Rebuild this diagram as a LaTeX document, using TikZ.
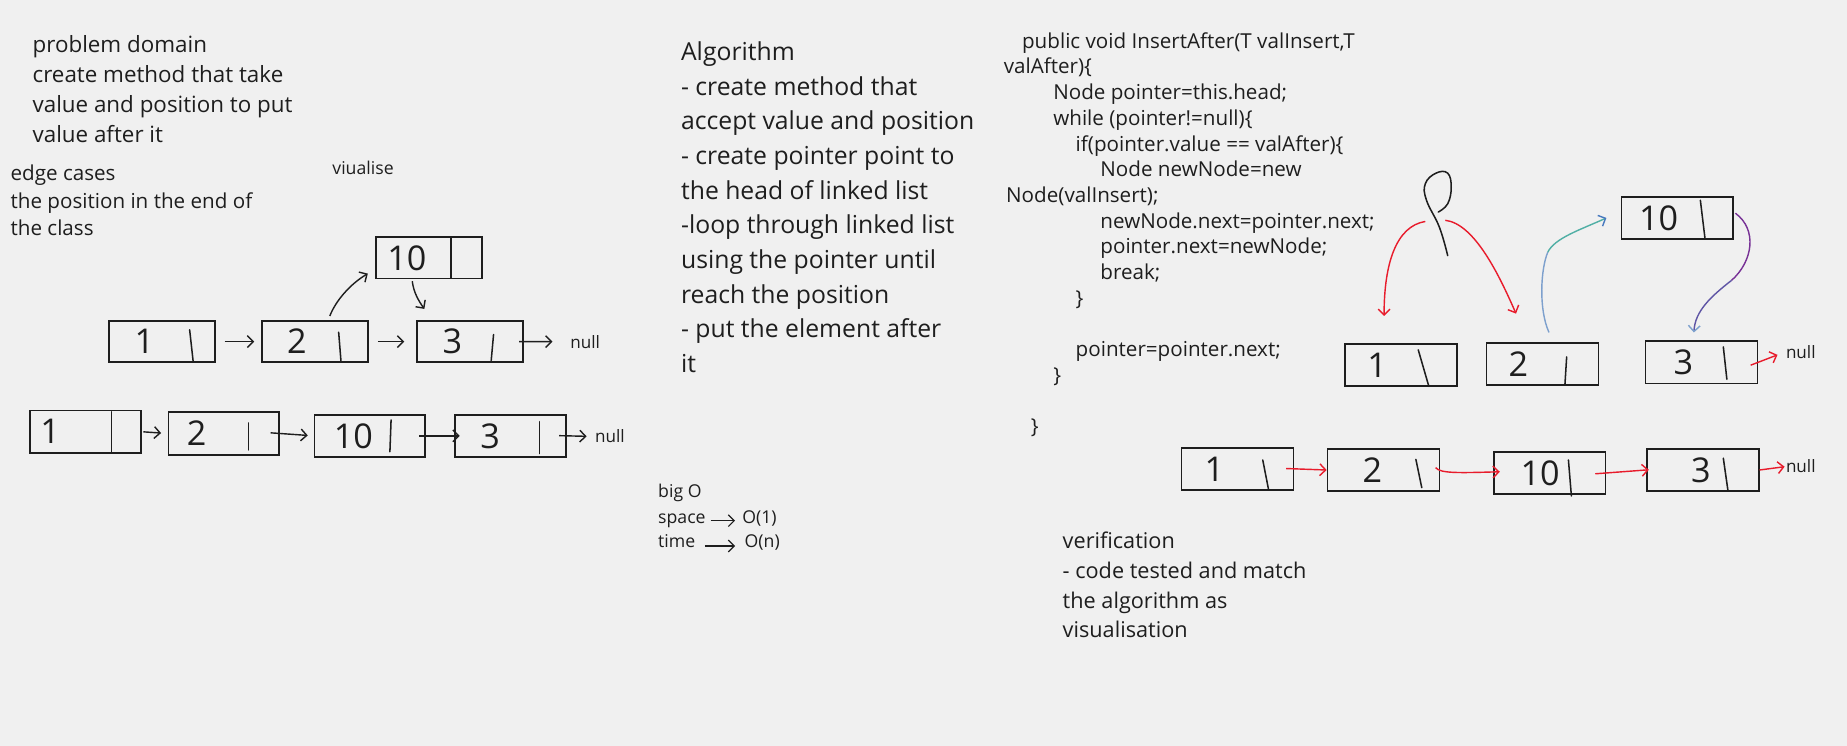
\documentclass[tikz,border=0pt]{standalone}
\usepackage{fontspec}
\setmainfont{Open Sans}
\usetikzlibrary{arrows.meta,calc}
\definecolor{paper}{RGB}{240,240,240}
\definecolor{ink}{RGB}{30,30,30}
\definecolor{hred}{RGB}{232,28,44}
\definecolor{cblue}{RGB}{70,120,190}
\definecolor{cpale}{RGB}{125,160,205}
\definecolor{cteal}{RGB}{80,175,165}
\definecolor{cpurp}{RGB}{120,50,150}
\definecolor{cviol}{RGB}{95,85,165}

\begin{document}
\begin{tikzpicture}[x=1pt,y=-1pt,
  cell/.style={draw=ink,line width=1.5pt,minimum width=90pt,minimum height=35pt,inner sep=0pt},
  num/.style={font=\fontsize{29}{29}\selectfont,text=ink,inner sep=0pt},
  bar/.style={ink,line width=1.3pt,line cap=round},
  txt/.style={text=ink,inner sep=0pt,anchor=base west},
  prob/.style={txt,font=\fontsize{19}{23}\selectfont},
  algo/.style={txt,font=\fontsize{21}{25}\selectfont},
  edgetxt/.style={txt,font=\fontsize{17.5}{21}\selectfont},
  code/.style={txt,font=\fontsize{17.5}{21}\selectfont},
  tiny/.style={txt,font=\fontsize{15}{18}\selectfont},
  nul/.style={txt,font=\fontsize{14.5}{17}\selectfont},
  link/.style={ink,line width=1.2pt,-{Straight Barb[length=5pt,width=10pt]}},
  rlink/.style={link,hred}]
  \fill[paper] (0,0) rectangle (1568,633);
  \useasboundingbox (0,0) rectangle (1568,633);

  % notes on the left
  \foreach \t [count=\i] in {problem domain,create method that take,value and position to put,value after it}
    \node[prob] (prob\i) at (27.5,{44.7+25.5*(\i-1)}) {\t};
  \foreach \t [count=\i] in {edge cases,the position in the end of,the class}
    \node[edgetxt] (edge\i) at (8.8,{153+23.6*(\i-1)}) {\t};
  \node[tiny] (vis) at (282,148) {viualise};

  % algorithm
  \foreach \t [count=\i] in {Algorithm,- create method that,accept value and position,- create pointer point to,the head of linked list,-loop through linked list,using the pointer until,reach the position,- put the element after,it}
    \node[algo] (alg\i) at (578,{51.5+29.4*(\i-1)}) {\t};

  % big O
  \node[tiny] (bigo) at (558.6,422) {big O};
  \node[tiny] (space) at (558.6,444) {space};
  \node[tiny] (o1) at (630,444) {O(1)};
  \node[tiny] (time) at (558.6,464.5) {time};
  \node[tiny] (on) at (632,464.5) {O(n)};
  \draw[link,line width=1pt,shorten <=4pt,shorten >=6pt] ([yshift=2pt]space.base east) -- ([yshift=2pt]o1.base west);
  \draw[link,line width=1pt,shorten <=8pt,shorten >=8pt] ([yshift=1pt]time.base east) -- ([yshift=1pt]on.base west);

  % code
  \foreach \x/\k/\t in {867.5/0/{public void InsertAfter(T valInsert,T},852/1/{valAfter)\{},
      894/2/{Node pointer=this.head;},894/3/{while (pointer!=null)\{},913/4/{if(pointer.value == valAfter)\{},
      934/5/{Node newNode=new},854/6/{Node(valInsert);},934/7/{newNode.next=pointer.next;},
      934/8/{pointer.next=newNode;},934/9/{break;},913/10/{\}},913/12/{pointer=pointer.next;},
      894/13/{\}},875/15/{\}}}
    \node[code] (code\k) at (\x,{41+21.8*\k}) {\t};

  % verification
  \foreach \t [count=\i] in {verification,- code tested and match,the algorithm as,visualisation}
    \node[prob,font=\fontsize{18.4}{22}\selectfont] (ver\i) at (902,{466+25.2*(\i-1)}) {\t};

  % list before and after, left
  \foreach \n/\x/\y/\v/\d/\ax/\ay/\bx/\by in {T1/137.5/290/1/-15/23.5/-10/26.5/17,
      T2/267.5/290/2/-15.5/20/-8/22/17,T3/399/290/3/-15/20/-6/18/16,T10/364.5/219/10/-19/18.5/-17/18.5/17}{
    \node[cell] (\n) at (\x,\y) {};
    \node[num] (d\n) at ($(\n)+(\d,0)$) {\v};
    \draw[bar] ($(\n)+(\ax,\ay)$) -- ($(\n)+(\bx,\by)$);
  }
  \begin{scope}[cell/.append style={minimum width=94pt,minimum height=36pt}]
    \foreach \n/\x/\y/\v/\d/\ax/\ay/\bx/\by in {B1/72.5/366.5/1/-30/22/-17/22/18,
        B2/190/368/2/-23/21/-9/21/14,B10/314/370/10/-14/18/-13.5/17/13.5,B3/433.5/370/3/-17.5/24.5/-12/24.5/15}{
      \node[cell] (\n) at (\x,\y) {};
      \node[num] (d\n) at ($(\n)+(\d,0)$) {\v};
      \draw[bar] ($(\n)+(\ax,\ay)$) -- ($(\n)+(\bx,\by)$);
    }
  \end{scope}
  \node[nul] (nullT) at (484,295.5) {null};
  \node[nul] (nullB) at (505,376) {null};
  \draw[link,shorten <=7.5pt,shorten >=6pt] (T1.east) -- (T2.west);
  \draw[link,shorten <=7.5pt,shorten >=10pt] (T2.east) -- (T3.west);
  \draw[link,shorten <=-4pt,shorten >=15pt] (T3.east) -- (nullT.west);
  \draw[link] ($(T2.north)+(12.5,-3.5)$) .. controls +(5,-13) and +(-15,9) .. ($(T10.south west)+(-6.5,-5)$);
  \draw[link] ($(T10.south)+(-14.5,1.5)$) .. controls +(1,9) and +(-5,-7) .. ($(T3.north west)+(7,-9.5)$);
  \draw[link,shorten <=1.5pt,shorten >=5.5pt] (B1.east) -- (B2.west);
  \draw[link,shorten <=-8pt,shorten >=5pt] (B2.east) -- (B10.west);
  \draw[link,shorten <=-6pt,shorten >=-4.5pt] (B10.east) -- (B3.west);
  \draw[link,shorten <=-6.5pt,shorten >=7pt] (B3.east) -- (nullB.west);

  % list before and after, right
  \begin{scope}[cell/.append style={minimum width=95pt,minimum height=36pt}]
    \foreach \n/\x/\y/\v/\d/\ax/\ay/\bx/\by in {R1/1189.5/310/1/-20.5/14.5/-13/23.5/18,
        R2/1309.5/309/2/-20.5/20.5/-6/19/18,R3/1444.5/307.5/3/-15.5/18.5/-13/21.5/14.5,
        R10/1424/185/10/-16/19.5/-15/23.5/18,Q1/1050.5/398/1/-19.5/21.5/-7.5/26.5/18,
        Q2/1174.5/399/2/-9.5/27.5/-9/32.5/15,Q10/1315.5/401.5/10/-8/16/-11/18.5/19.5,
        Q3/1445.5/399/3/-1.5/17.5/-10/21.5/18}{
      \node[cell] (\n) at (\x,\y) {};
      \node[num] (d\n) at ($(\n)+(\d,0)$) {\v};
      \draw[bar] ($(\n)+(\ax,\ay)$) -- ($(\n)+(\bx,\by)$);
    }
  \end{scope}
  \node[nul] (nullR) at (1516,304) {null};
  \node[nul] (nullQ) at (1516,401.5) {null};

  % pointer
  \draw[bar] plot[smooth,tension=0.7] coordinates {(1229,217) (1222,193) (1211,170) (1210,156) (1219,147)
    (1229,147) (1232,159) (1229,173) (1221,180)};
  \coordinate (ptrL) at (1210,188);
  \coordinate (ptrR) at (1227,187);
  \draw[rlink] (ptrL) .. controls +(-25,4) and +(0,-44) .. ($(R1.north)+(-14.5,-23)$);
  \draw[rlink] (ptrR) .. controls +(25,3) and +(-14,-32) .. ($(R2.north)+(-22.5,-24)$);

  \coordinate (gm) at (1314,214);
  \draw[cpale,line width=1.2pt] ($(R2.north)+(5.5,-8)$) .. controls +(-9,-20) and +(-6,14) .. (gm);
  \draw[cteal,line width=1.2pt,-{Straight Barb[length=5pt,width=10pt,color=cblue]}] (gm) .. controls +(6,-12) and +(-22,10) .. ($(R10.west)+(-12,0)$);
  \coordinate (pm) at (1470,238);
  \draw[cpurp,line width=1.2pt] ($(R10.east)+(1,-4)$) .. controls +(19,14) and +(18,-16) .. (pm);
  \draw[cviol,line width=1.2pt,-{Straight Barb[length=5pt,width=10pt,color=cpale]}] (pm) .. controls +(-18,14) and +(1,-18) .. ($(R3.north)+(-6.5,-6.5)$);

  \draw[rlink,shorten <=-7pt,shorten >=7.5pt] (R3.east) -- (nullR.west);
  \draw[rlink,shorten <=-7pt] (Q1.east) -- (Q2.west);
  \draw[rlink] ($(Q2.east)+(-4,-2)$) .. controls +(4,5) and +(-35,1) .. ($(Q10.west)+(6,-1)$);
  \draw[rlink,shorten <=-9.5pt,shorten >=-2.5pt] (Q10.east) -- (Q3.west);
  \draw[rlink,shorten >=1pt] (Q3.east) -- (nullQ.west);
\end{tikzpicture}
\end{document}
